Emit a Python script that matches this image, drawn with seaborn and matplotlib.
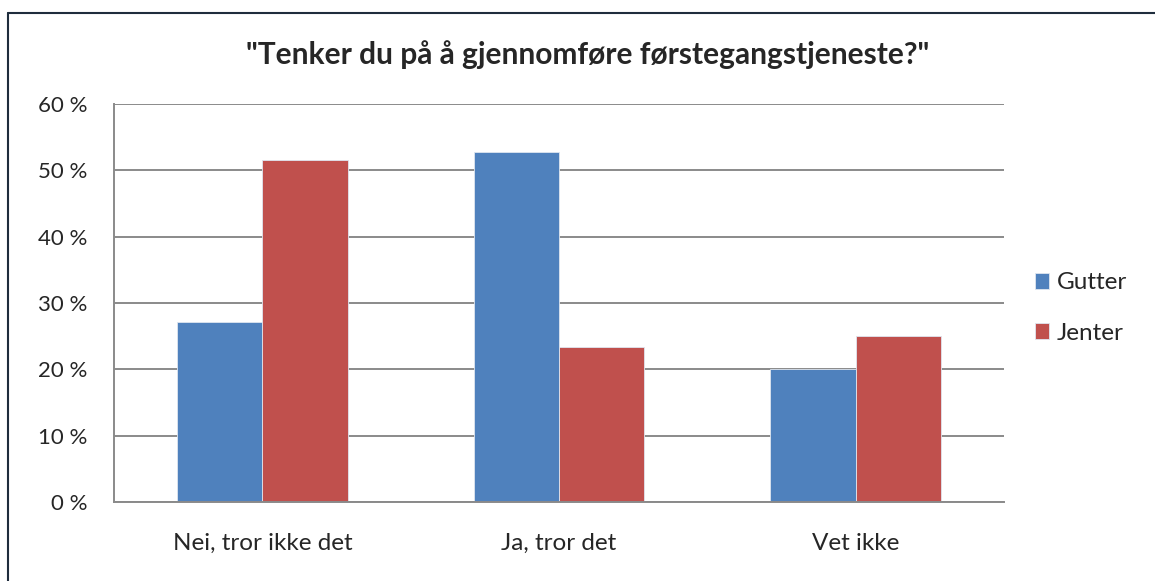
import pandas as pd
import matplotlib.pyplot as plt
import seaborn as sns
from matplotlib.lines import Line2D
from matplotlib.ticker import FuncFormatter

categories = ['Nei, tror ikke det', 'Ja, tror det', 'Vet ikke']
gutter = [27.1, 52.8, 20.1]
jenter = [51.6, 23.4, 25.0]
y_ticks = [0, 10, 20, 30, 40, 50, 60]

df = pd.DataFrame({
    'svar': categories * 2,
    'kjonn': ['Gutter'] * 3 + ['Jenter'] * 3,
    'andel': gutter + jenter,
})

sns.set_style('white')
plt.rcParams['font.family'] = ['Lato', 'DejaVu Sans']

fig = plt.figure(figsize=(11.55, 5.81), dpi=100)
ax = fig.add_axes([114 / 1155, 1 - 502 / 581, 890 / 1155, 398 / 581])

sns.barplot(data=df, x='svar', y='andel', hue='kjonn', ax=ax,
            palette={'Gutter': '#4F81BD', 'Jenter': '#C0504D'},
            width=0.575, saturation=1, edgecolor='#dfe6f0', linewidth=0.6)

ax.set_ylim(0, 60)
ax.set_yticks(y_ticks)
ax.yaxis.set_major_formatter(FuncFormatter(lambda v, p: f'{int(v)} %'))
ax.grid(axis='y', color='#8a8a8a', linewidth=1.4)
ax.set_axisbelow(True)
for side in ['top', 'right']:
    ax.spines[side].set_visible(False)
for side in ['left', 'bottom']:
    ax.spines[side].set_color('#8a8a8a')
    ax.spines[side].set_linewidth(1.4)
ax.tick_params(axis='y', length=0, pad=19, labelsize=16)
ax.tick_params(axis='x', length=0, pad=22, labelsize=17.5)
ax.set_xlabel('')
ax.set_ylabel('')

handles, labels = ax.get_legend_handles_labels()
ax.legend_.remove()
fig.legend(handles, labels, loc='center left', bbox_to_anchor=(1013 / 1155, 1 - 308 / 581),
           frameon=False, fontsize=17.5, handlelength=0.6, handleheight=0.6,
           handletextpad=0.3, labelspacing=1.2)

fig.text(0.509, 1 - 55 / 581, '"Tenker du på å gjennomføre førstegangstjeneste?"',
         ha='center', va='center', fontsize=21.5, weight='bold')

# ramme rundt diagrammet (bare topp og venstre synlig)
fig.add_artist(Line2D([7.5 / 1155, 1], [1 - 12.5 / 581, 1 - 12.5 / 581],
                      transform=fig.transFigure, color='#1f2d3d', linewidth=1.5))
fig.add_artist(Line2D([7.5 / 1155, 7.5 / 1155], [0, 1 - 12.5 / 581],
                      transform=fig.transFigure, color='#1f2d3d', linewidth=1.5))

plt.savefig('out.png', dpi=100)
plt.close()
